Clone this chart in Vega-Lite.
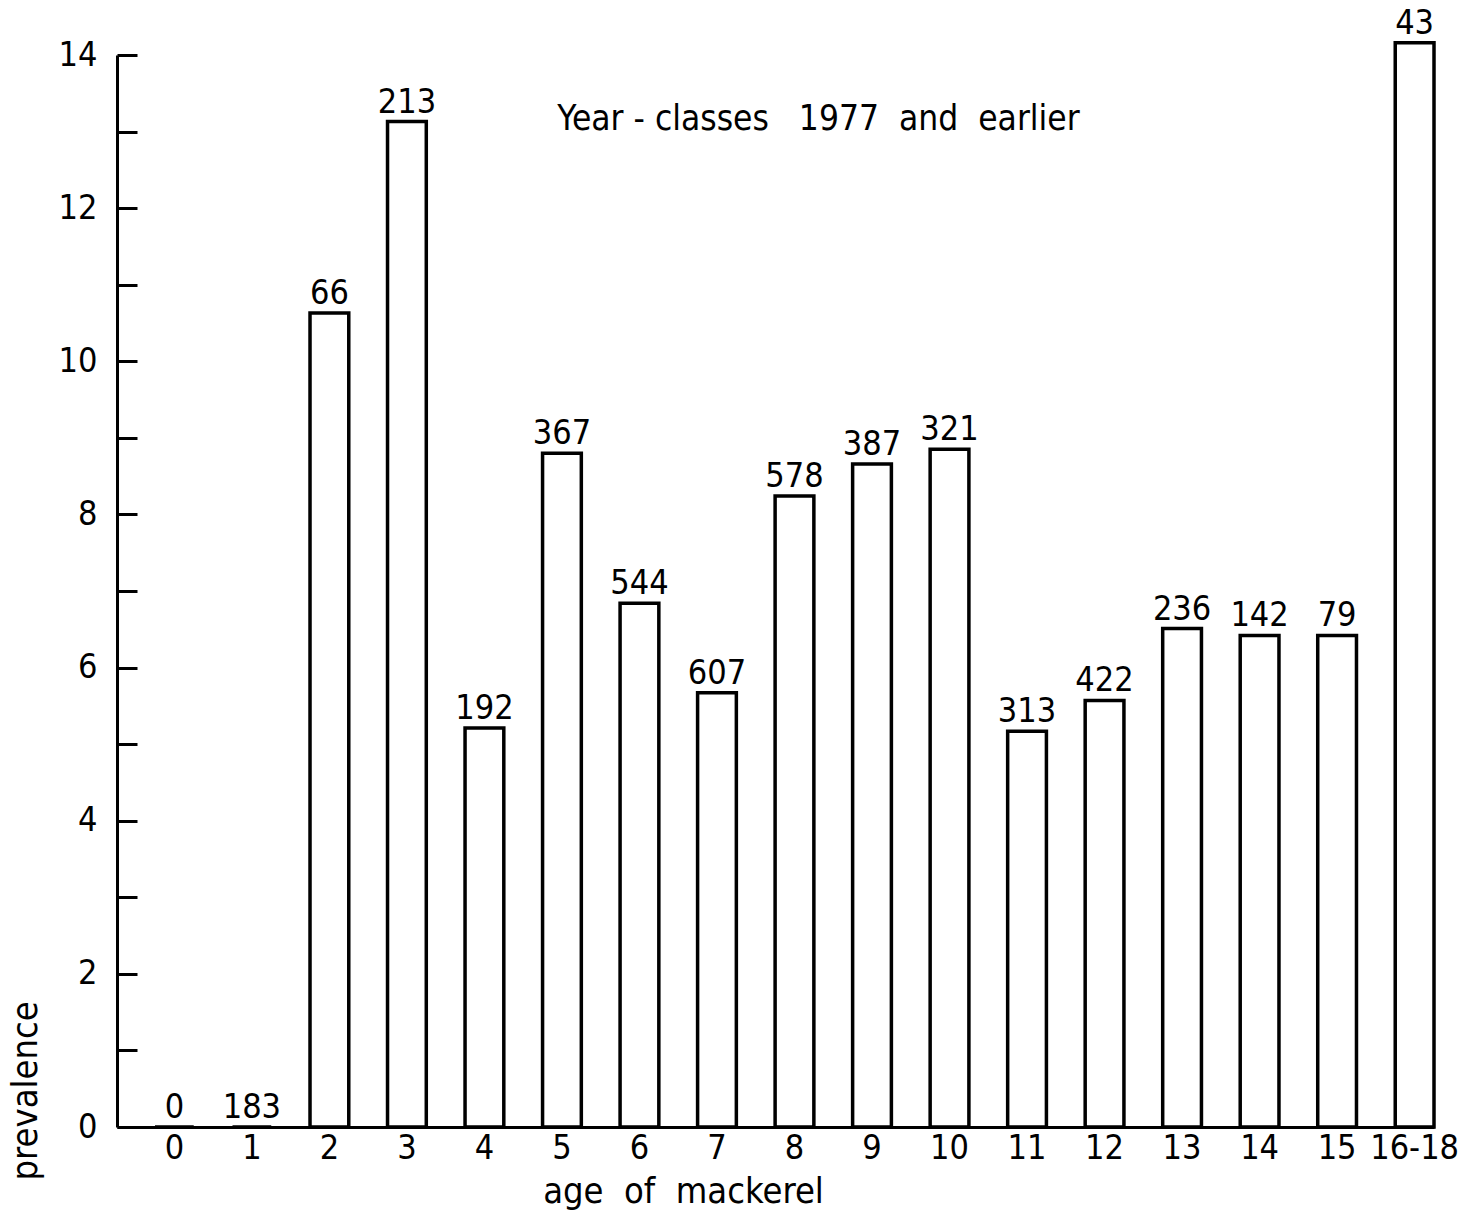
{
  "$schema": "https://vega.github.io/schema/vega-lite/v6.json",
  "width": 1317,
  "height": 1072,
  "autosize": {"type": "none"},
  "padding": {"left": 117, "top": 55, "right": 30, "bottom": 89},
  "background": "white",
  "config": {
    "font": "'DejaVu Sans Condensed', Roboto, sans-serif",
    "view": {"stroke": null},
    "axis": {"grid": false, "domainColor": "black", "domainWidth": 3, "tickColor": "black", "tickWidth": 3, "labelColor": "black", "titleColor": "black", "labelFont": "'DejaVu Sans Condensed', Roboto, sans-serif", "titleFont": "'DejaVu Sans Condensed', Roboto, sans-serif", "titleFontWeight": "normal"}
  },
  "title": {
    "text": "Year - classes \u00a0 1977 \u00a0and \u00a0earlier",
    "font": "'DejaVu Sans Condensed', Roboto, sans-serif",
    "fontSize": 35,
    "fontWeight": "normal",
    "color": "black",
    "baseline": "alphabetic",
    "frame": "group",
    "anchor": "middle",
    "dx": 43,
    "offset": -158
  },
  "data": {
    "values": [
      {"age": "0", "prevalence": 0, "n": "0"},
      {"age": "1", "prevalence": 0, "n": "183"},
      {"age": "2", "prevalence": 10.63, "n": "66"},
      {"age": "3", "prevalence": 13.13, "n": "213"},
      {"age": "4", "prevalence": 5.21, "n": "192"},
      {"age": "5", "prevalence": 8.8, "n": "367"},
      {"age": "6", "prevalence": 6.84, "n": "544"},
      {"age": "7", "prevalence": 5.67, "n": "607"},
      {"age": "8", "prevalence": 8.24, "n": "578"},
      {"age": "9", "prevalence": 8.66, "n": "387"},
      {"age": "10", "prevalence": 8.85, "n": "321"},
      {"age": "11", "prevalence": 5.17, "n": "313"},
      {"age": "12", "prevalence": 5.57, "n": "422"},
      {"age": "13", "prevalence": 6.51, "n": "236"},
      {"age": "14", "prevalence": 6.42, "n": "142"},
      {"age": "15", "prevalence": 6.42, "n": "79"},
      {"age": "16-18", "prevalence": 14.16, "n": "43"}
    ]
  },
  "encoding": {
    "x": {
      "field": "age",
      "type": "nominal",
      "sort": null,
      "scale": {"paddingInner": 0.5, "paddingOuter": 0.245, "align": 1},
      "axis": {
        "title": "age \u00a0of \u00a0mackerel",
        "labelAngle": 0,
        "ticks": false,
        "labelPadding": 4,
        "labelFontSize": 34,
        "titleFontSize": 36,
        "titleX": 566,
        "titleY": 75,
        "titleBaseline": "alphabetic",
        "titleAnchor": null
      }
    },
    "y": {
      "field": "prevalence",
      "type": "quantitative",
      "scale": {"domain": [0, 14], "nice": false},
      "axis": {
        "title": "prevalence",
        "values": [0, 1, 2, 3, 4, 5, 6, 7, 8, 9, 10, 11, 12, 13, 14],
        "labelExpr": "datum.value % 2 == 0 ? datum.label : ''",
        "tickSize": -20,
        "labelPadding": 40,
        "labelFontSize": 34,
        "titleFontSize": 36,
        "titleAngle": 270,
        "titleAlign": "left",
        "titleBaseline": "middle",
        "titleX": -92,
        "titleY": 1125
      }
    }
  },
  "layer": [
    {"mark": {"type": "bar", "fill": "white", "stroke": "black", "strokeWidth": 3.5}},
    {
      "mark": {"type": "text", "baseline": "alphabetic", "dy": -9, "fontSize": 34, "color": "black", "font": "'DejaVu Sans Condensed', Roboto, sans-serif"},
      "encoding": {"text": {"field": "n"}}
    }
  ]
}
